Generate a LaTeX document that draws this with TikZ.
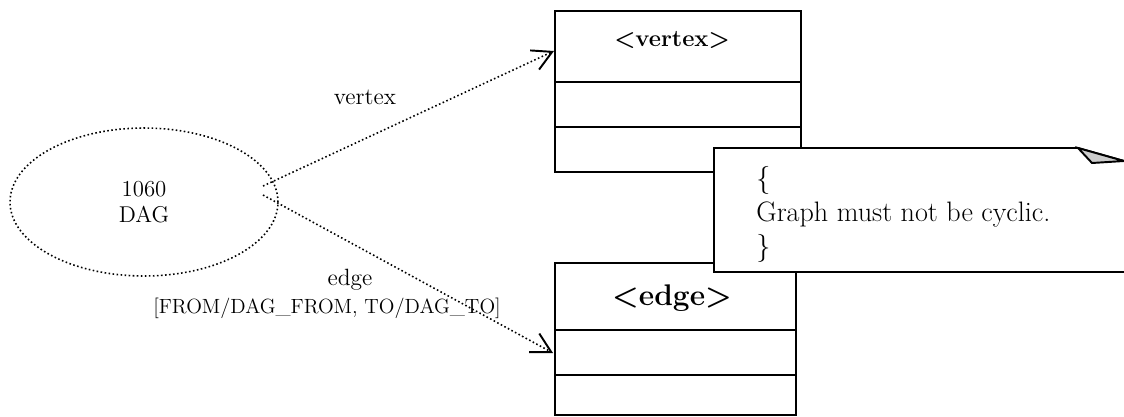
\documentclass[tikz,border=0pt]{standalone}
\usetikzlibrary{arrows.meta,shapes.geometric}
\tikzset{
  dots/.style={line width=0.9pt, dash pattern=on 0.9pt off 1.4pt},
  link/.style={dots, -{Straight Barb[length=11pt,width=12pt,line width=1.1pt]}},
  classbox/.style={draw, line width=1.1pt, anchor=north west, inner sep=0pt},
  lbl/.style={font=\fontsize{13.4}{15}\selectfont},
}
\begin{document}
\begin{tikzpicture}[x=0.02cm, y=-0.02cm]
\useasboundingbox (0,0) rectangle (1124,416);
% use case
\node[ellipse, draw, dots, minimum width=5.36cm, minimum height=2.96cm, inner sep=0pt,
      align=center, font=\fontsize{13}{14.5}\selectfont] (dag) at (144,202) {1060\\DAG};
\coordinate (vout) at (263,186);
\coordinate (eout) at (263,195);
% classes
\node[classbox, minimum width=4.92cm, minimum height=3.22cm] (vertex) at (554,10) {};
\node[classbox, minimum width=4.82cm, minimum height=3.04cm] (edge) at (554,262) {};
\draw[line width=1.1pt] (554,82) -- (800,82);
\draw[line width=1.1pt] (554,127) -- (800,127);
\draw[line width=1.1pt] (554,330) -- (795,330);
\draw[line width=1.1pt] (554,375) -- (795,375);
\node[font=\bfseries\fontsize{13.5}{15}\selectfont] (vname) at (672,40) {<vertex>};
\node[font=\bfseries\fontsize{17}{19}\selectfont] (ename) at (672,298) {<edge>};
\coordinate (vin) at (554,51);
\coordinate (ein) at (553,353);
% links
\draw[link] (vout) -- (vin);
\draw[link] (eout) -- (ein);
\node[lbl] (vlabel) at (365,97) {vertex};
\node[lbl] (elabel) at (350,280) {edge};
\node[font=\fontsize{11.7}{13}\selectfont] (eroles) at (327,308) {[FROM/DAG\_FROM, TO/DAG\_TO]};
% note
\draw[line width=1.1pt, fill=white] (714,148) -- (1078,148) -- (1124,161) -- (1130,161)
  -- (1130,272) -- (714,272) -- cycle;
\draw[line width=1.1pt, fill=black!20] (1078,148) -- (1092,163) -- (1124,161) -- cycle;
\node[anchor=north west, align=left, inner sep=0pt,
      font=\fontsize{16}{19.5}\selectfont] (note) at (756,166) {\{\\Graph must not be cyclic.\\\}};
\end{tikzpicture}
\end{document}
